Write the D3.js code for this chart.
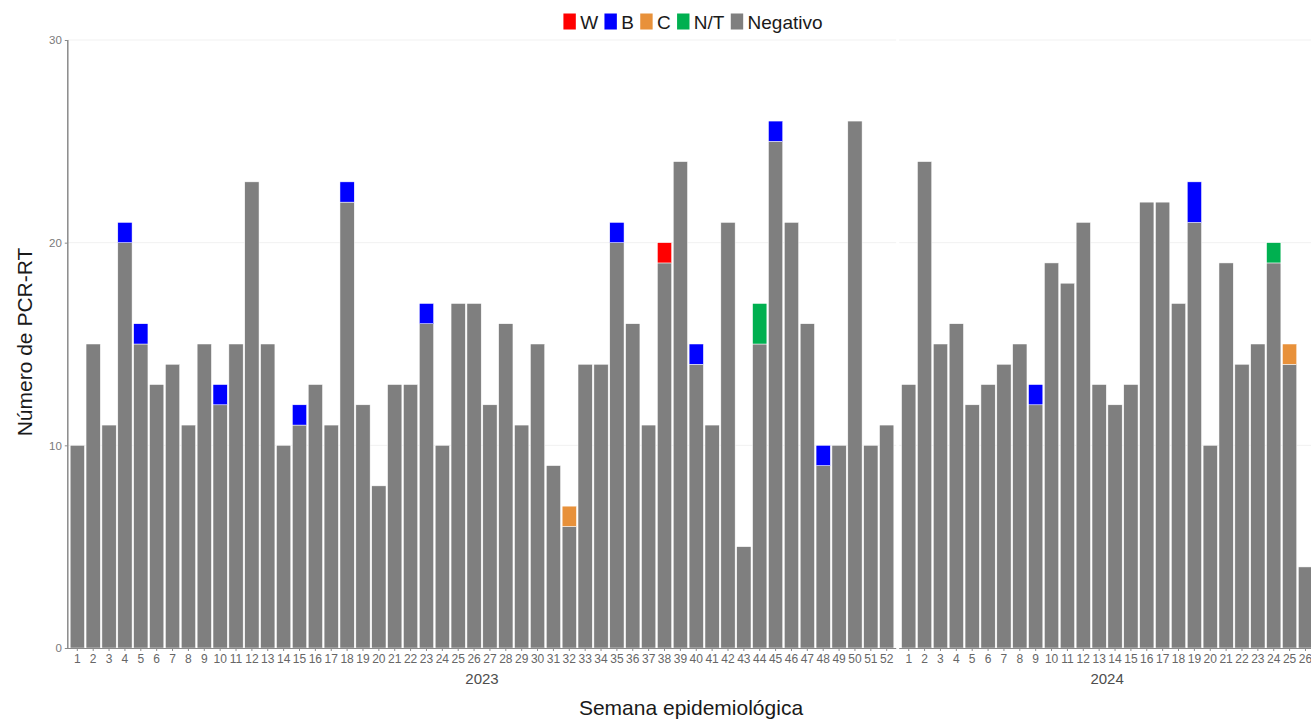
<!DOCTYPE html>
<html>
<head>
<meta charset="utf-8">
<script src="https://cdn.jsdelivr.net/npm/d3@7"></script>
<style>
  html, body { margin: 0; padding: 0; background: #ffffff; }
  svg { display: block; font-family: "Liberation Sans", Arial, sans-serif; }
</style>
</head>
<body>
<svg id="chart" width="1311" height="719"></svg>
<script>
// ---------- DATA ----------
const years = ["2023", "2024"];
const weeks2023 = [1,2,3,4,5,6,7,8,9,10,11,12,13,14,15,16,17,18,19,20,21,22,23,24,25,26,
                   27,28,29,30,31,32,33,34,35,36,37,38,39,40,41,42,43,44,45,46,47,48,49,50,51,52];
const weeks2024 = [1,2,3,4,5,6,7,8,9,10,11,12,13,14,15,16,17,18,19,20,21,22,23,24,25,26];

const negativo2023 = [10,15,11,20,15,13,14,11,15,12,15,23,15,10,11,13,11,22,12,8,13,13,16,10,17,17,
                      12,16,11,15,9,6,14,14,20,16,11,19,24,14,11,21,5,15,25,21,16,9,10,26,10,11];
const w2023  = [0,0,0,0,0,0,0,0,0,0,0,0,0,0,0,0,0,0,0,0,0,0,0,0,0,0,
                0,0,0,0,0,0,0,0,0,0,0,1,0,0,0,0,0,0,0,0,0,0,0,0,0,0];
const b2023  = [0,0,0,1,1,0,0,0,0,1,0,0,0,0,1,0,0,1,0,0,0,0,1,0,0,0,
                0,0,0,0,0,0,0,0,1,0,0,0,0,1,0,0,0,0,1,0,0,1,0,0,0,0];
const c2023  = [0,0,0,0,0,0,0,0,0,0,0,0,0,0,0,0,0,0,0,0,0,0,0,0,0,0,
                0,0,0,0,0,1,0,0,0,0,0,0,0,0,0,0,0,0,0,0,0,0,0,0,0,0];
const nt2023 = [0,0,0,0,0,0,0,0,0,0,0,0,0,0,0,0,0,0,0,0,0,0,0,0,0,0,
                0,0,0,0,0,0,0,0,0,0,0,0,0,0,0,0,0,2,0,0,0,0,0,0,0,0];

const negativo2024 = [13,24,15,16,12,13,14,15,12,19,18,21,13,12,13,22,22,17,21,10,19,14,15,19,14,4];
const w2024  = [0,0,0,0,0,0,0,0,0,0,0,0,0,0,0,0,0,0,0,0,0,0,0,0,0,0];
const b2024  = [0,0,0,0,0,0,0,0,1,0,0,0,0,0,0,0,0,0,2,0,0,0,0,0,0,0];
const c2024  = [0,0,0,0,0,0,0,0,0,0,0,0,0,0,0,0,0,0,0,0,0,0,0,0,1,0];
const nt2024 = [0,0,0,0,0,0,0,0,0,0,0,0,0,0,0,0,0,0,0,0,0,0,0,1,0,0];

const legendKeys = ["W", "B", "C", "N/T", "Negativo"];
const legendColors = ["#ff0000", "#0000ff", "#e8913a", "#00b050", "#7f7f7f"];
const stackOrder = ["Negativo", "N/T", "C", "B", "W"];
const yTicks = [0, 10, 20, 30];

// ---------- BUILD TABLES ----------
function table(weeks, neg, w, b, c, nt) {
  return weeks.map((wk, i) => ({ week: wk, "Negativo": neg[i], "W": w[i], "B": b[i], "C": c[i], "N/T": nt[i] }));
}
const panels = [
  { year: years[0], weeks: weeks2023, rows: table(weeks2023, negativo2023, w2023, b2023, c2023, nt2023) },
  { year: years[1], weeks: weeks2024, rows: table(weeks2024, negativo2024, w2024, b2024, c2024, nt2024) }
];

// ---------- LAYOUT ----------
const svg = d3.select("#chart");
const color = d3.scaleOrdinal().domain(legendKeys).range(legendColors);
const yTop = 40, yBottom = 648;
const y = d3.scaleLinear().domain([0, 30]).range([yBottom, yTop]);

const step = 15.87;
const panelStart = [67.8, 899.2];
panels.forEach((p, i) => {
  const x0 = panelStart[i];
  const x1 = x0 + (p.weeks.length + 0.2) * step;
  p.x = d3.scaleBand().domain(p.weeks).range([x0, x1]).paddingInner(0.1).paddingOuter(0.15);
  p.x0 = x0; p.x1 = x1;
});

// gridlines
const gridG = svg.append("g");
panels.forEach(p => {
  gridG.selectAll(null).data(yTicks.filter(t => t > 0)).join("line")
    .attr("x1", p.x0).attr("x2", p.x1)
    .attr("y1", d => y(d)).attr("y2", d => y(d))
    .attr("stroke", "#f1f1f1").attr("stroke-width", 1);
});

// bars
const stack = d3.stack().keys(stackOrder);
panels.forEach(p => {
  const series = stack(p.rows);
  const g = svg.append("g");
  series.forEach(s => {
    g.selectAll(null).data(s.filter(d => d[1] - d[0] > 0)).join("rect")
      .attr("x", d => p.x(d.data.week))
      .attr("width", p.x.bandwidth())
      .attr("y", d => y(d[1]))
      .attr("height", d => y(d[0]) - y(d[1]))
      .attr("fill", color(s.key))
      .attr("stroke", "#ffffff")
      .attr("stroke-width", 0.5);
  });

  // x axis
  const ax = svg.append("g").attr("transform", `translate(0,${yBottom})`)
    .call(d3.axisBottom(p.x).tickSize(3).tickPadding(3));
  ax.select(".domain").remove();
  ax.selectAll(".tick line").attr("stroke", "#8a8a8a");
  ax.selectAll(".tick text").attr("fill", "#666666").attr("font-size", "12px")
    .attr("font-family", "Liberation Sans, Arial, sans-serif");
  svg.append("line").attr("x1", p.x0).attr("x2", p.x1)
    .attr("y1", yBottom + 0.5).attr("y2", yBottom + 0.5)
    .attr("stroke", "#8a8a8a").attr("stroke-width", 1.2);

  // year strip label
  svg.append("text").attr("x", (p.x0 + p.x1) / 2).attr("y", 684)
    .attr("text-anchor", "middle").attr("font-size", "15px").attr("fill", "#4d4d4d")
    .text(p.year);
});

// y axis
const yAx = svg.append("g").attr("transform", `translate(${panelStart[0]},0)`)
  .call(d3.axisLeft(y).tickValues(yTicks).tickSize(3).tickPadding(3));
yAx.select(".domain").remove();
yAx.selectAll(".tick line").attr("stroke", "#8a8a8a");
yAx.selectAll(".tick text").attr("fill", "#7a7a7a").attr("font-size", "11.5px")
  .attr("font-family", "Liberation Sans, Arial, sans-serif");
svg.append("line").attr("x1", panelStart[0]).attr("x2", panelStart[0])
  .attr("y1", yTop).attr("y2", yBottom + 1)
  .attr("stroke", "#8a8a8a").attr("stroke-width", 1.5);

// axis titles
svg.append("text").attr("x", 691).attr("y", 715).attr("text-anchor", "middle")
  .attr("font-size", "21px").attr("fill", "#1a1a1a").text("Semana epidemiológica");
svg.append("text").attr("transform", "translate(32,342) rotate(-90)").attr("text-anchor", "middle")
  .attr("font-size", "21px").attr("fill", "#1a1a1a").text("Número de PCR-RT");

// legend
const leg = svg.append("g");
const items = leg.selectAll("g").data(legendKeys).join("g");
items.append("rect").attr("width", 12.4).attr("height", 16).attr("y", 13.5)
  .attr("fill", d => color(d));
items.append("text").attr("x", 16.8).attr("y", 29).attr("font-size", "19px")
  .attr("fill", "#1a1a1a").text(d => d);
let cx = 0;
const offs = [];
items.each(function () {
  offs.push(cx);
  const tw = d3.select(this).select("text").node().getComputedTextLength();
  cx += 16.8 + tw + 6.3;
});
const totalW = cx - 6.3;
const legStart = 693 - totalW / 2;
items.attr("transform", (d, i) => `translate(${legStart + offs[i]},0)`);
</script>
</body>
</html>
